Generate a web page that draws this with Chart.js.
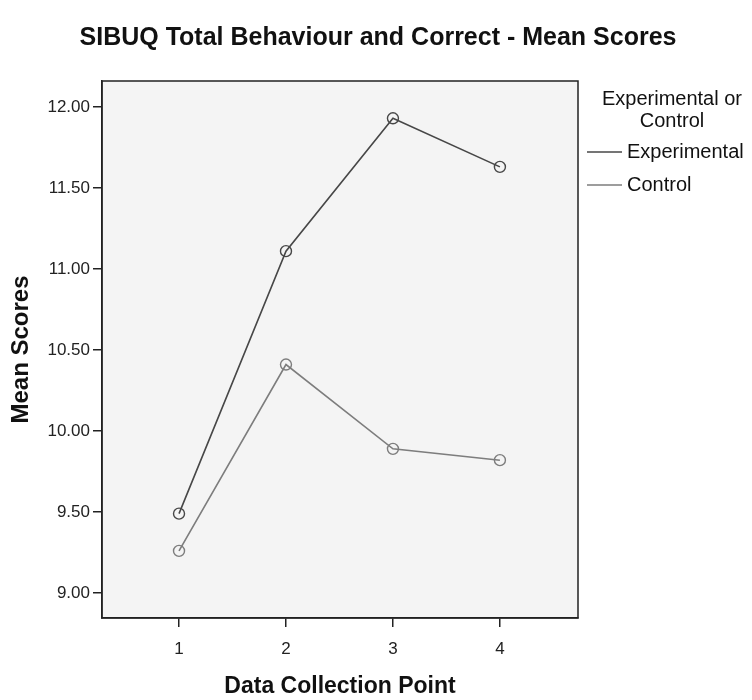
<!DOCTYPE html>
<html>
<head>
<meta charset="utf-8">
<script src="https://cdn.jsdelivr.net/npm/chart.js@4.4.0/dist/chart.umd.min.js"></script>
<style>
  html, body { margin: 0; padding: 0; background: #fff; }
  #wrap { width: 752px; height: 700px; }
</style>
</head>
<body>
<div id="wrap"><canvas id="meanChart" width="752" height="700"></canvas></div>
<script>
// Dados do gráfico
const collectionPoints = [1, 2, 3, 4];
const experimentalScores = [9.49, 11.11, 11.93, 11.63];
const controlScores = [9.26, 10.41, 9.89, 9.82];
const yTickValues = [9, 9.5, 10, 10.5, 11, 11.5, 12];
const chartTitle = 'SIBUQ Total Behaviour and Correct - Mean Scores';
const legendTitle = ['Experimental or', 'Control'];
const seriesNames = ['Experimental', 'Control'];

const FONT = '"Liberation Sans", Arial, sans-serif';
const INK = '#222';

// Fundo e moldura da área do gráfico
const plotFrame = {
  id: 'plotFrame',
  beforeDraw(chart) {
    const { ctx, chartArea: a } = chart;
    ctx.save();
    ctx.fillStyle = '#f4f4f4';
    ctx.fillRect(a.left, a.top, a.right - a.left, a.bottom - a.top);
    ctx.restore();
  },
  afterDatasetsDraw(chart) {
    const { ctx, chartArea: a } = chart;
    ctx.save();
    ctx.strokeStyle = INK;
    ctx.lineWidth = 1.5;
    ctx.strokeRect(a.left, a.top, a.right - a.left, a.bottom - a.top);
    ctx.restore();
  }
};

// Título centralizado na largura toda da imagem
const pageTitle = {
  id: 'pageTitle',
  afterDraw(chart) {
    const { ctx } = chart;
    ctx.save();
    ctx.font = 'bold 25px ' + FONT;
    ctx.fillStyle = '#111';
    ctx.textAlign = 'center';
    ctx.textBaseline = 'middle';
    ctx.fillText(chartTitle, 378, 38);
    ctx.restore();
  }
};

// Legenda desenhada à direita, no estilo SPSS
const sideLegend = {
  id: 'sideLegend',
  afterDraw(chart) {
    const { ctx } = chart;
    ctx.save();
    ctx.font = '20px ' + FONT;
    ctx.fillStyle = '#111';
    ctx.textAlign = 'center';
    ctx.textBaseline = 'middle';
    legendTitle.forEach((t, i) => ctx.fillText(t, 672, 99 + i * 22));
    ctx.textAlign = 'left';
    chart.data.datasets.forEach((ds, i) => {
      const y = 152 + i * 33;
      ctx.strokeStyle = ds.borderColor;
      ctx.lineWidth = 1.5;
      ctx.beginPath();
      ctx.moveTo(587, y);
      ctx.lineTo(622, y);
      ctx.stroke();
      ctx.fillStyle = '#111';
      ctx.fillText(ds.label, 627, y);
    });
    ctx.restore();
  }
};

const toPoints = (vals) => collectionPoints.map((c, i) => ({ x: c, y: vals[i] }));

new Chart(document.getElementById('meanChart'), {
  type: 'line',
  data: {
    datasets: [
      {
        label: seriesNames[0],
        data: toPoints(experimentalScores),
        borderColor: '#474747',
        borderWidth: 1.6,
        pointStyle: 'circle',
        pointRadius: 5.5,
        pointBorderWidth: 1.4,
        pointBorderColor: '#474747',
        pointBackgroundColor: 'rgba(0,0,0,0)',
        tension: 0
      },
      {
        label: seriesNames[1],
        data: toPoints(controlScores),
        borderColor: '#7d7d7d',
        borderWidth: 1.6,
        pointStyle: 'circle',
        pointRadius: 5.5,
        pointBorderWidth: 1.4,
        pointBorderColor: '#7d7d7d',
        pointBackgroundColor: 'rgba(0,0,0,0)',
        tension: 0
      }
    ]
  },
  options: {
    responsive: false,
    animation: false,
    layout: { padding: { left: 0, right: 174, top: 81, bottom: 0 } },
    plugins: {
      legend: { display: false },
      tooltip: { enabled: false },
      title: { display: false }
    },
    scales: {
      x: {
        type: 'linear',
        min: 0.28,
        max: 4.73,
        afterBuildTicks: (s) => { s.ticks = collectionPoints.map(v => ({ value: v })); },
        afterFit: (s) => { s.height = 82; },
        grid: { drawOnChartArea: false, drawTicks: true, tickLength: 9, color: INK, lineWidth: 1.5 },
        border: { display: true, color: INK, width: 1.5 },
        ticks: {
          color: '#222',
          padding: 12,
          font: { family: FONT, size: 17 },
          callback: (v) => String(v)
        },
        title: {
          display: true,
          text: 'Data Collection Point',
          color: '#111',
          font: { family: FONT, size: 23, weight: 'bold' },
          padding: { top: 0, bottom: 0 }
        }
      },
      y: {
        min: 8.846,
        max: 12.16,
        afterBuildTicks: (s) => { s.ticks = yTickValues.map(v => ({ value: v })); },
        afterFit: (s) => { s.width = 102; },
        grid: { drawOnChartArea: false, drawTicks: true, tickLength: 9, color: INK, lineWidth: 1.5 },
        border: { display: true, color: INK, width: 1.5 },
        ticks: {
          color: '#222',
          padding: 3,
          font: { family: FONT, size: 17 },
          callback: (v) => Number(v).toFixed(2)
        },
        title: {
          display: true,
          text: 'Mean Scores',
          color: '#111',
          font: { family: FONT, size: 24, weight: 'bold' },
          padding: { top: 7, bottom: 0 }
        }
      }
    }
  },
  plugins: [plotFrame, pageTitle, sideLegend]
});
</script>
</body>
</html>
